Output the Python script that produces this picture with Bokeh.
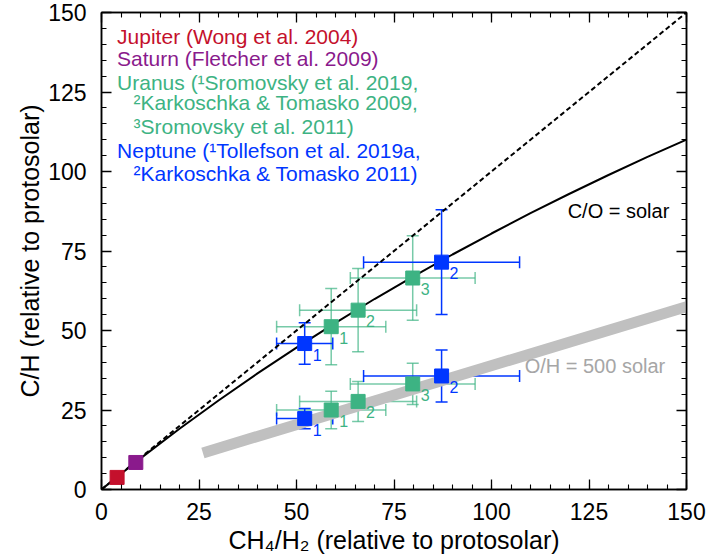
from bokeh.plotting import figure
from bokeh.models import (Range1d, LinearAxis, SingleIntervalTicker, Whisker, TeeHead,
                          ColumnDataSource, Label, CustomJSTickFormatter)
from bokeh.embed import file_html
from bokeh.resources import INLINE
from bokeh.core.properties import value

FONT = "Liberation Sans"

# ---------------- data ----------------
jupiter_x = [4.0]
jupiter_y = [3.8]
saturn_x = [8.8]
saturn_y = [8.5]

uranus_x = [58.9, 65.8, 79.8]
uranus_xerr = [14.0, 15.0, 16.0]
uranus_y_solar = [51.2, 56.4, 66.5]
uranus_yerr_solar = [12.0, 13.1, 13.3]
uranus_y_500 = [25.0, 27.7, 33.2]
uranus_yerr_500 = [5.9, 6.3, 6.5]
uranus_ref = ["1", "2", "3"]

neptune_x = [52.1, 87.2]
neptune_xerr = [7.2, 20.0]
neptune_y_solar = [45.9, 71.5]
neptune_yerr_solar = [6.5, 16.5]
neptune_y_500 = [22.3, 35.7]
neptune_yerr_500 = [3.2, 8.2]
neptune_ref = ["1", "2"]

one_to_one_x = [0, 150]
one_to_one_y = [0, 150]

co_solar_x = [0, 10, 20, 30, 40, 50, 60, 70, 80, 90, 100, 110, 120, 130, 140, 150]
co_solar_y = [0, 9.8, 19.1, 28.0, 36.5, 44.6, 52.4, 59.9, 67.0, 73.9, 80.5,
              86.9, 93.0, 98.9, 104.6, 110.0]

oh500_x = [26, 150]
oh500_y = [11.5, 57.5]

legend_lines = [
    "Jupiter (Wong et al. 2004)",
    "Saturn (Fletcher et al. 2009)",
    "Uranus (\u00b9Sromovsky et al. 2019,",
    "\u00b2Karkoschka & Tomasko 2009,",
    "\u00b3Sromovsky et al. 2011)",
    "Neptune (\u00b9Tollefson et al. 2019a,",
    "\u00b2Karkoschka & Tomasko 2011)",
]
legend_x = [4.0, 4.0, 4.0, 8.2, 8.2, 4.0, 8.2]
legend_y = [142.5, 135.6, 128.1, 121.6, 114.1, 106.6, 99.4]

RED = "#c4102c"
PURPLE = "#8a1a8c"
GREEN = "#3db383"
BLUE = "#0036ff"
legend_colors = [RED, PURPLE, GREEN, GREEN, GREEN, BLUE, BLUE]

# ---------------- figure ----------------
p = figure(width=710, height=556, x_range=Range1d(0, 150), y_range=Range1d(0, 150),
           output_backend="svg", toolbar_location=None,
           min_border_left=101, min_border_right=24, min_border_top=12, min_border_bottom=67)
p.xgrid.visible = False
p.ygrid.visible = False
p.outline_line_color = "black"
p.outline_line_width = 1.5
p.background_fill_color = "white"
p.border_fill_color = "white"


def style_axis(ax, labels=True):
    ax.ticker = SingleIntervalTicker(interval=25, num_minor_ticks=5)
    ax.major_tick_in = 10
    ax.major_tick_out = 0
    ax.minor_tick_in = 5
    ax.minor_tick_out = 0
    ax.axis_line_color = "black"
    ax.axis_line_width = 1.5
    ax.major_tick_line_color = "black"
    ax.major_tick_line_width = 1.3
    ax.minor_tick_line_color = "black"
    ax.minor_tick_line_width = 1.1
    ax.major_label_text_font = FONT
    ax.axis_label_text_font = FONT
    ax.axis_label_text_font_style = "normal"
    ax.major_label_text_color = "black"
    ax.axis_label_text_color = "black"
    if labels:
        ax.major_label_text_font_size = "23px"
        ax.axis_label_text_font_size = "25px"
    else:
        ax.formatter = CustomJSTickFormatter(code="return ''")
        ax.major_label_standoff = 0


style_axis(p.xaxis[0])
style_axis(p.yaxis[0])
p.xaxis[0].axis_label = "CH\u2084/H\u2082 (relative to protosolar)"
p.yaxis[0].axis_label = "C/H (relative to protosolar)"
p.xaxis[0].major_label_standoff = 13
p.xaxis[0].axis_label_standoff = 3
p.yaxis[0].major_label_standoff = 15
p.yaxis[0].axis_label_standoff = 1

top_ax = LinearAxis()
right_ax = LinearAxis()
style_axis(top_ax, labels=False)
style_axis(right_ax, labels=False)
p.add_layout(top_ax, "above")
p.add_layout(right_ax, "right")

# ---------------- lines ----------------
p.line(oh500_x, oh500_y, line_color="#c0c0c0", line_width=11, line_cap="butt")
p.line(one_to_one_x, one_to_one_y, line_color="black", line_width=2, line_dash="5 3")
p.line(co_solar_x, co_solar_y, line_color="black", line_width=2)

# ---------------- error bars ----------------
def errorbars(xs, xerr, ys, yerr, color, alpha):
    src = ColumnDataSource(dict(
        x=xs, y=ys,
        xl=[a - b for a, b in zip(xs, xerr)], xu=[a + b for a, b in zip(xs, xerr)],
        yl=[a - b for a, b in zip(ys, yerr)], yu=[a + b for a, b in zip(ys, yerr)],
    ))
    for dim, base, lo, up in (("width", "y", "xl", "xu"), ("height", "x", "yl", "yu")):
        w = Whisker(source=src, base=base, lower=lo, upper=up, dimension=dim,
                    line_color=color, line_width=1.5, line_alpha=alpha,
                    upper_head=TeeHead(size=12, line_color=color, line_width=1.5, line_alpha=alpha),
                    lower_head=TeeHead(size=12, line_color=color, line_width=1.5, line_alpha=alpha))
        p.add_layout(w)


errorbars(uranus_x, uranus_xerr, uranus_y_solar, uranus_yerr_solar, GREEN, 0.7)
errorbars(uranus_x, uranus_xerr, uranus_y_500, uranus_yerr_500, GREEN, 0.7)
errorbars(neptune_x, neptune_xerr, neptune_y_solar, neptune_yerr_solar, BLUE, 1.0)
errorbars(neptune_x, neptune_xerr, neptune_y_500, neptune_yerr_500, BLUE, 1.0)

# ---------------- markers ----------------
SZ = 14
p.scatter(jupiter_x, jupiter_y, marker="square", size=SZ, fill_color=RED, line_color=RED)
p.scatter(saturn_x, saturn_y, marker="square", size=SZ, fill_color=PURPLE, line_color=PURPLE)
for ys in (uranus_y_solar, uranus_y_500):
    p.scatter(uranus_x, ys, marker="square", size=SZ, fill_color=GREEN, line_color=GREEN)
    p.text(uranus_x, ys, text=uranus_ref, x_offset=8, y_offset=11,
           text_font=value(FONT), text_font_size="16px", text_color=GREEN,
           text_baseline="middle", text_align="left")
for ys in (neptune_y_solar, neptune_y_500):
    p.scatter(neptune_x, ys, marker="square", size=SZ, fill_color=BLUE, line_color=BLUE)
    p.text(neptune_x, ys, text=neptune_ref, x_offset=8, y_offset=11,
           text_font=value(FONT), text_font_size="16px", text_color=BLUE,
           text_baseline="middle", text_align="left")

# ---------------- annotations ----------------
p.text(legend_x, legend_y, text=legend_lines, text_color=legend_colors,
       text_font=value(FONT), text_font_size="21px", text_baseline="middle", text_align="left")

p.add_layout(Label(x=145.6, y=87.6, text="C/O = solar", text_font=FONT, text_font_size="20px",
                   text_color="black", text_align="right", text_baseline="middle"))
p.add_layout(Label(x=108.5, y=38.7, text="O/H = 500 solar", text_font=FONT, text_font_size="20px",
                   text_color="#a6a6a6", text_align="left", text_baseline="middle"))

open("out.html", "w").write(file_html(p, INLINE))
